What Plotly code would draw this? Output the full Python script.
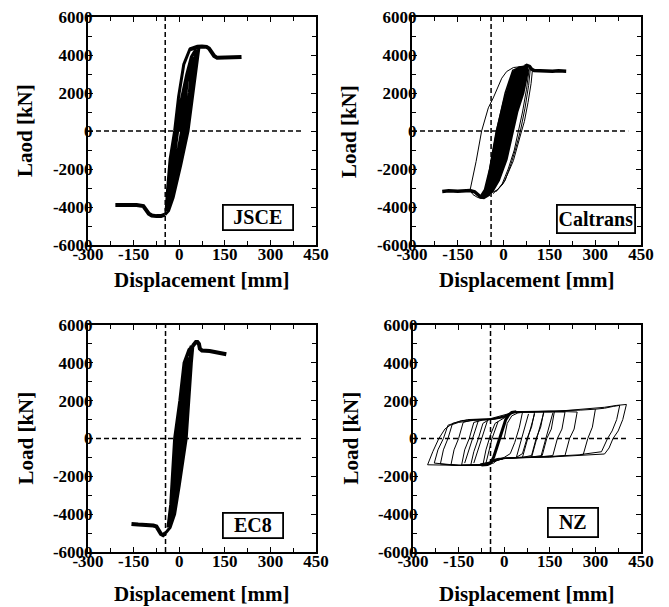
import plotly.graph_objects as go

FONT = "Liberation Serif, Times New Roman, serif"

# ---------------- data ----------------
x_ticks = [-300, -150, 0, 150, 300, 450]
x_tick_labels = ["-300", "-150", "0", "150", "300", "450"]
x_minor = [-225, -75, 75, 225, 375]
y_ticks = [-6000, -4000, -2000, 0, 2000, 4000, 6000]
y_tick_labels = ["-6000", "-4000", "-2000", "0", "2000", "4000", "6000"]
y_minor = [-5000, -3000, -1000, 1000, 3000, 5000]

panel_names = ["JSCE", "Caltrans", "EC8", "NZ"]
y_titles = ["Laod [kN]", "Load [kN]", "Load [kN]", "Load [kN]"]
x_title = "Displacement [mm]"
vline_x = [-46, -41, -45, -45]       # vertical dashed reference line (mm)
hline_end = [404, 408, 403, 407]     # end of horizontal dashed line (mm)

# JSCE
jsce_cyc_x = [0, 15, 30, 20, 8, -10, -30, -18, -5, 12, 28, 45, 33, 15, -10,
              -27, -38, -30, -22, -10, 5, 25, 40, 55, 43, 32, 22, 0, -25, -43,
              -38, -30, -15, -2, 15, 35, 65, 55, 42, 29, 5, -20, -35, -47]
jsce_cyc_y = [0, 1600, 3200, 1600, 0, -1600, -3200, -1600, 0, 1600, 2800, 3900, 2000, 0, -2000,
              -3200, -3800, -2500, -1200, 0, 1500, 3000, 3900, 4300, 2500, 1000, 0, -1800, -3500, -4200,
              -3000, -1500, 0, 1800, 3500, 4300, 4400, 3200, 1500, 0, -1800, -3500, -4200, -4400]
jsce_neg_x = [-47, -60, -75, -90, -100, -108, -118, -140, -170, -210]
jsce_neg_y = [-4400, -4480, -4480, -4450, -4350, -4150, -3950, -3900, -3920, -3900]
jsce_pos_x = [35, 50, 60, 75, 90, 98, 105, 115, 125, 150, 180, 205]
jsce_pos_y = [4300, 4400, 4440, 4450, 4430, 4350, 4150, 3950, 3850, 3870, 3880, 3900]

# Caltrans
cal_core_x = [-77, -62, -45, -23, 0, 20, 31, 50, 76, 80, 65, 45, 32, 10, -15, -35, -55, -77]
cal_core_y = [-3480, -3100, -2000, 0, 1500, 2600, 3100, 3350, 3420, 3200, 2000, 1000, 0, -1500, -2600, -3150, -3400, -3480]
cal_outer_x = [-110, -90, -72, -50, -34, -20, -6, 10, 32, 59, 76]
cal_outer_y = [-3130, -1600, 0, 1220, 1740, 2300, 2780, 3130, 3340, 3390, 3450]
cal_r1_x = [95, 90, 80, 68, 59, 45, 32, 15, -1, -20, -34, -51, -65]
cal_r1_y = [3300, 2500, 1500, 500, 0, -800, -1565, -2200, -2770, -3100, -3220, -3340, -3450]
cal_r2_x = [88, 82, 70, 55, 40, 25, 5, -15, -35]
cal_r2_y = [3350, 2400, 1200, 0, -900, -1700, -2600, -3000, -3300]
cal_r3_x = [84, 75, 62, 48, 35, 15, -5, -25]
cal_r3_y = [3300, 2200, 1000, 0, -1000, -2000, -2800, -3200]
cal_l1_x = [-60, -40, -20, 5, 30, 60]
cal_l1_y = [-3300, -1500, 200, 2000, 3200, 3400]
cal_neg_x = [-201, -180, -150, -120, -110, -95, -85, -75, -65, -55, -45]
cal_neg_y = [-3180, -3150, -3170, -3120, -3130, -3200, -3350, -3480, -3500, -3420, -3300]
cal_dip_x = [-110, -100, -85, -70, -60]
cal_dip_y = [-3130, -3350, -3500, -3550, -3450]
cal_pos_x = [70, 76, 85, 92, 100, 120, 140, 160, 180, 205]
cal_pos_y = [3400, 3450, 3400, 3250, 3180, 3160, 3130, 3150, 3170, 3150]

# EC8
ec8_cyc_x = [0, 8, 18, 10, 3, -6, -18, -10, -3, 7, 20, 30, 20, 12, -5,
             -25, -15, -8, 5, 25, 40, 30, 18, 0, -22, -37, -28, -15, 2, 16,
             32, 45, 40, 23, 0, -15, -30, -45]
ec8_cyc_y = [0, 1500, 3000, 1500, 0, -1500, -3000, -1500, 0, 1500, 3500, 4300, 2500, 0, -2000,
             -4000, -2000, 0, 2000, 4300, 4900, 3000, 0, -2000, -4000, -4700, -3500, 0, 2000, 4000,
             4700, 4900, 4000, 0, -2500, -4000, -4700, -5000]
ec8_neg_x = [-45, -53, -60, -68, -75, -85, -110, -135, -157]
ec8_neg_y = [-5000, -5110, -5050, -4850, -4650, -4600, -4600, -4550, -4520]
ec8_pos_x = [45, 50, 55, 60, 65, 68, 75, 100, 130, 155]
ec8_pos_y = [4900, 5050, 5100, 5100, 5000, 4750, 4650, 4620, 4550, 4450]

# NZ
nz_x = [0, 10, 25, 45, 60,
        50, 35, 20, 0, -20, -35, -55, -70,
        -60, -45, -30, -10, 10, 30, 60, 100,
        90, 75, 60, 40, 0, -30, -50, -80, -110,
        -100, -85, -70, -50, -20, 10, 30, 80, 130,
        120, 105, 90, 60, 0, -40, -60, -100, -140,
        -130, -115, -100, -70, -40, 0, 25, 100, 165,
        155, 140, 125, 80, 0, -40, -70, -140, -175,
        -165, -150, -135, -100, -45, 0, 30, 120, 200,
        190, 175, 160, 100, 0, -50, -80, -160, -210,
        -200, -185, -170, -120, -45, 0, 40, 150, 240,
        230, 215, 200, 150, 50, -30, -60, -150, -230,
        -218, -200, -185, -140, -60, 0, 30, 100, 200, 250, 300,
        290, 275, 260, 150, 50, -30, -60, -150, -252,
        -235, -215, -195, -178, -150, -100, -50, 0, 20, 60, 160, 220, 280, 330, 370, 402,
        390, 375, 358, 345, 330, 250, 150, 50, -20, -50, -80]
nz_y = [0, 800, 1200, 1350, 1380,
        600, -200, -800, -1000, -1100, -1300, -1380, -1400,
        -600, 200, 800, 1000, 1200, 1380, 1400, 1400,
        600, 0, -800, -1000, -1050, -1150, -1350, -1400, -1400,
        -700, 0, 800, 1000, 1050, 1250, 1400, 1420, 1420,
        600, 0, -900, -1000, -1050, -1200, -1380, -1400, -1400,
        -600, 0, 850, 980, 1000, 1150, 1380, 1400, 1420,
        500, 0, -900, -1000, -1050, -1250, -1400, -1420, -1380,
        -600, 0, 850, 1000, 1020, 1200, 1400, 1420, 1400,
        500, 0, -900, -1000, -1050, -1300, -1420, -1420, -1350,
        -600, 0, 800, 1000, 1050, 1250, 1420, 1450, 1400,
        500, 0, -900, -980, -1000, -1100, -1400, -1420, -1300,
        -600, 0, 700, 950, 1000, 1150, 1380, 1420, 1450, 1500, 1550,
        600, 0, -850, -950, -1000, -1100, -1400, -1420, -1390,
        -700, 0, 500, 700, 850, 960, 1000, 1100, 1350, 1420, 1420, 1500, 1550, 1650, 1750, 1800,
        1000, 400, 0, -500, -820, -900, -980, -1000, -1050, -1250, -1350]
nz_loop2_x = [300, 330, 360, 380, 370, 355, 340, 320, 250]
nz_loop2_y = [1550, 1600, 1700, 1750, 1000, 400, 0, -700, -850]
# interior short reloading strokes seen inside the NZ loops
nz_inner_x = [-130, -105, -85, None, -100, -75, -55, None, -60, -40, -20, None,
              60, 80, 100, None, 90, 110, 130, None, 120, 140, 160, None, 40, 60, 80]
nz_inner_y = [-1300, 0, 950, None, -1300, 0, 950, None, -1300, 0, 900, None,
              -1000, 200, 1300, None, -1000, 200, 1350, None, -1000, 200, 1350, None, -1000, 100, 1300]
nz_core_x = [-75, -55, -45, -35, -25, -15, -5, 5, 15, 25, 40]
nz_core_y = [-1400, -1380, -1300, -1000, -500, 0, 500, 1000, 1250, 1380, 1420]

# ---------------- layout geometry ----------------
W, H = 669, 607
OFF = 8   # the page body has an 8 px margin; positions below are in screen pixels
# pixel boxes of the four plot areas: (left, right, top, bottom)
boxes = [(88, 316, 17, 245), (412, 641, 17, 245), (88, 316, 325, 552), (413, 641, 325, 552)]

def px(v):
    return (v - OFF) / W

def py(v):
    return 1 - (v - OFF) / H

fig = go.Figure()

def add_line(xs, ys, k, width):
    ax = "" if k == 0 else str(k + 1)
    fig.add_trace(go.Scatter(x=xs, y=ys, mode="lines", xaxis="x" + ax, yaxis="y" + ax,
                             line=dict(color="black", width=width), showlegend=False,
                             hoverinfo="skip", connectgaps=False))

# JSCE
add_line(jsce_cyc_x, jsce_cyc_y, 0, 3)
add_line(jsce_neg_x, jsce_neg_y, 0, 4)
add_line(jsce_pos_x, jsce_pos_y, 0, 4)

# Caltrans
fig.add_trace(go.Scatter(x=cal_core_x, y=cal_core_y, mode="lines", xaxis="x2", yaxis="y2",
                         fill="toself", fillcolor="black", line=dict(color="black", width=2),
                         showlegend=False, hoverinfo="skip"))
add_line(cal_outer_x, cal_outer_y, 1, 1)
add_line(cal_r1_x, cal_r1_y, 1, 1)
add_line(cal_r2_x, cal_r2_y, 1, 1)
add_line(cal_r3_x, cal_r3_y, 1, 1)
add_line(cal_l1_x, cal_l1_y, 1, 1.5)
add_line(cal_dip_x, cal_dip_y, 1, 1)
add_line(cal_neg_x, cal_neg_y, 1, 3.5)
add_line(cal_pos_x, cal_pos_y, 1, 3.5)

# EC8
add_line(ec8_cyc_x, ec8_cyc_y, 2, 3)
add_line(ec8_neg_x, ec8_neg_y, 2, 4)
add_line(ec8_pos_x, ec8_pos_y, 2, 4)

# NZ
add_line(nz_x, nz_y, 3, 1)
add_line(nz_loop2_x, nz_loop2_y, 3, 1)
add_line(nz_inner_x, nz_inner_y, 3, 1)
add_line(nz_core_x, nz_core_y, 3, 3)

tickfont = dict(family=FONT, size=17, color="black", weight="bold")
layout = dict(template="none", width=W, height=H, margin=dict(l=0, r=0, t=0, b=0, pad=0),
              paper_bgcolor="white", plot_bgcolor="white", showlegend=False)

shapes = []
annotations = []
for k, (l, r, t, b) in enumerate(boxes):
    ax = "" if k == 0 else str(k + 1)
    xd = [px(l), px(r)]
    yd = [py(b), py(t)]
    layout["xaxis" + ax] = dict(
        domain=xd, anchor="y" + ax, range=[-300, 450], tickmode="array", automargin=False,
        tickvals=x_ticks, ticktext=x_tick_labels, ticks="inside", ticklen=5,
        tickwidth=1, tickcolor="black", showline=True, linewidth=2, linecolor="black",
        mirror="ticks", showgrid=False, zeroline=False, tickfont=tickfont,
        ticklabelstandoff=-7, ticklabeloverflow="allow",
        minor=dict(tickmode="array", tickvals=x_minor, ticks="inside", ticklen=4,
                   tickcolor="black", showgrid=False))
    layout["yaxis" + ax] = dict(
        domain=yd, anchor="x" + ax, range=[-6000, 6000], tickmode="array", automargin=False,
        tickvals=y_ticks, ticktext=y_tick_labels, ticks="inside", ticklen=5,
        tickwidth=1, tickcolor="black", showline=True, linewidth=2, linecolor="black",
        mirror="ticks", showgrid=False, zeroline=False, tickfont=tickfont,
        ticklabelstandoff=-10, ticklabeloverflow="allow",
        minor=dict(tickmode="array", tickvals=y_minor, ticks="inside", ticklen=4,
                   tickcolor="black", showgrid=False))
    shapes.append(dict(type="line", xref="x" + ax, yref="y" + ax, x0=-300, x1=hline_end[k],
                       y0=0, y1=0, layer="below",
                       line=dict(color="black", width=1.5, dash="5px,3px")))
    shapes.append(dict(type="line", xref="x" + ax, yref="y" + ax, x0=vline_x[k], x1=vline_x[k],
                       y0=-6000, y1=6000, layer="below",
                       line=dict(color="black", width=1.5, dash="5px,3px")))
    # axis titles
    annotations.append(dict(text=x_title, xref="paper", yref="paper",
                            x=px((l + r) / 2), y=py(b + 35) if k < 2 else py(b + 42),
                            xanchor="center", yanchor="middle", showarrow=False,
                            font=dict(family=FONT, size=21, color="black", weight="bold")))
    annotations.append(dict(text=y_titles[k], xref="paper", yref="paper",
                            x=px(l - 63), y=py((t + b) / 2), textangle=-90,
                            xanchor="center", yanchor="middle", showarrow=False,
                            font=dict(family=FONT, size=21, color="black", weight="bold")))

# panel name boxes: centre (px), width, height
name_boxes = [(258, 217.5, 66, 21), (596, 219, 74, 24), (253, 525.5, 56, 21), (573, 522.5, 46, 25)]
for k, (cx, cy, bw, bh) in enumerate(name_boxes):
    annotations.append(dict(text=panel_names[k], xref="paper", yref="paper",
                            x=px(cx), y=py(cy), xanchor="center", yanchor="middle",
                            showarrow=False, width=bw, height=bh, borderpad=1,
                            bordercolor="black", borderwidth=1.8, bgcolor="white",
                            font=dict(family=FONT, size=20, color="black", weight="bold")))

layout["shapes"] = shapes
layout["annotations"] = annotations
fig.update_layout(**layout)
fig.write_html("out.html")
